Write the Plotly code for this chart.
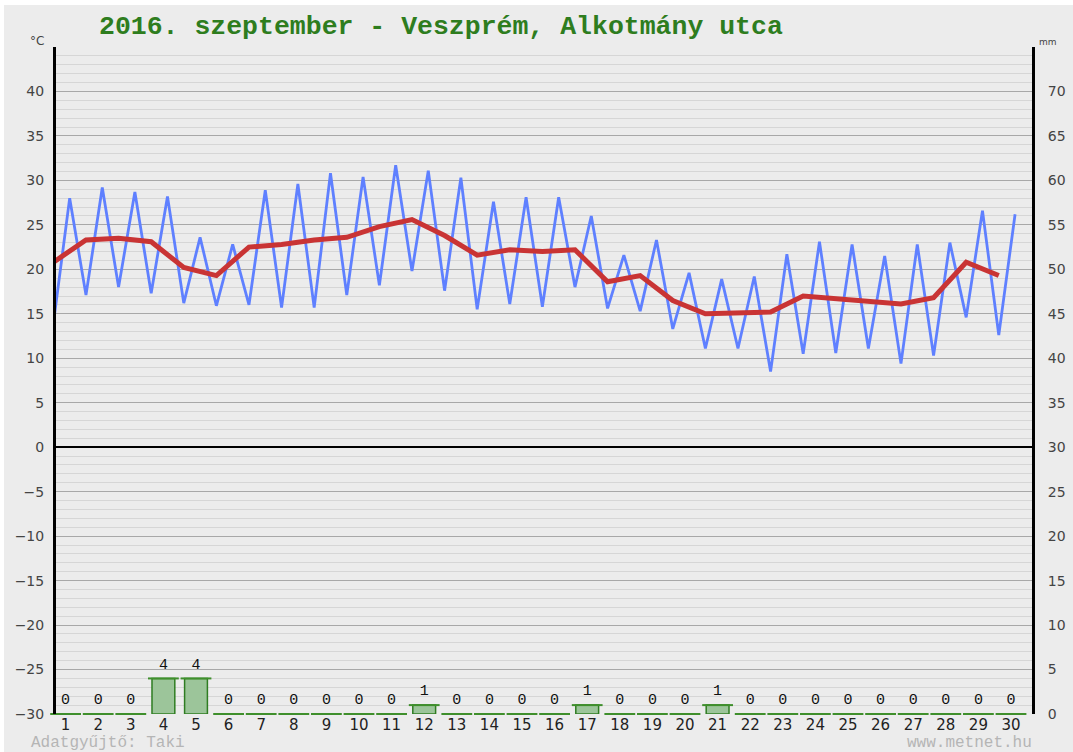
import plotly.graph_objects as go

# ---- data ----
days = list(range(1, 31))
day_labels = [str(d) for d in days]
t_min = [13.9, 17.1, 18.0, 17.3, 16.2, 15.9, 16.0, 15.7, 15.7, 17.1,
         18.2, 19.8, 17.6, 15.5, 16.1, 15.8, 18.0, 15.6, 15.3, 13.3,
         11.1, 11.1, 8.5, 10.5, 10.6, 11.1, 9.4, 10.3, 14.6, 12.6]
t_max = [28.0, 29.2, 28.7, 28.2, 23.6, 22.8, 28.9, 29.6, 30.8, 30.4,
         31.7, 31.1, 30.3, 27.6, 28.1, 28.1, 26.0, 21.6, 23.3, 19.6,
         18.9, 19.2, 21.7, 23.1, 22.8, 21.5, 22.8, 23.0, 26.6, 26.2]
t_mean = [20.8, 23.3, 23.5, 23.1, 20.2, 19.3, 22.5, 22.8, 23.3, 23.6,
          24.8, 25.6, 23.8, 21.6, 22.2, 22.0, 22.2, 18.6, 19.3, 16.5,
          15.0, 15.1, 15.2, 17.0, 16.7, 16.3, 16.1, 16.8, 20.8, 19.3]
precip = [0, 0, 0, 4, 4, 0, 0, 0, 0, 0,
          0, 1, 0, 0, 0, 0, 1, 0, 0, 0,
          1, 0, 0, 0, 0, 0, 0, 0, 0, 0]
temp_ticks = [-30, -25, -20, -15, -10, -5, 0, 5, 10, 15, 20, 25, 30, 35, 40]
mm_ticks = [0, 5, 10, 15, 20, 25, 30, 35, 40, 45, 50, 55, 60, 65, 70]

title_text = "2016. szeptember - Veszprém, Alkotmány utca"

# ---- geometry helpers ----
W, H = 1073, 752
ML, MR, MT, MB = 56, 41, 47, 38
PW, PH = W - ML - MR, H - MT - MB


def px(x):
    return (x - ML) / PW


def py(y):
    return (H - MB - y) / PH


MIN_OFF, MAX_OFF = -0.375, 0.125

# interleaved min/max line (night minimum then afternoon maximum)
zx, zy = [], []
for d, lo, hi in zip(days, t_min, t_max):
    zx += [d + MIN_OFF, d + MAX_OFF]
    zy += [lo, hi]
mean_x = [d + MIN_OFF for d in days]

BG = "#ececec"
fig = go.Figure()

fig.add_trace(go.Bar(
    x=days, y=precip, yaxis="y2", width=0.7,
    marker=dict(color="#9cc59a", line=dict(color="#2f7d22", width=1.5)),
    hoverinfo="skip", showlegend=False))
fig.add_trace(go.Scatter(
    x=days, y=precip, yaxis="y2", mode="markers",
    marker=dict(symbol="line-ew", size=22, line=dict(color="#3f8f2c", width=2)),
    cliponaxis=False, hoverinfo="skip", showlegend=False))
fig.add_trace(go.Scatter(
    x=days, y=precip, yaxis="y2", mode="markers+text", text=[str(p) for p in precip],
    textposition="top center",
    marker=dict(size=8, opacity=0),
    textfont=dict(family="Liberation Mono, DejaVu Sans Mono, monospace", size=15, color="#111"),
    cliponaxis=False, hoverinfo="skip", showlegend=False))
fig.add_trace(go.Scatter(
    x=zx, y=zy, mode="lines", line=dict(color="#5f80ff", width=2.8),
    hoverinfo="skip", showlegend=False))
fig.add_trace(go.Scatter(
    x=mean_x, y=t_mean, mode="lines", line=dict(color="#c93434", width=5),
    hoverinfo="skip", showlegend=False))

fig.update_layout(
    width=W, height=H,
    margin=dict(l=ML, r=MR, t=MT, b=MB, autoexpand=False),
    paper_bgcolor="white", plot_bgcolor=BG,
    bargap=0.3,
    xaxis=dict(range=[1 - 9.6 / 32.6, 1 + (W - MR - 65.6) / 32.6],
               tickmode="array", tickvals=days, ticktext=day_labels,
               showgrid=False, zeroline=False, showline=False, ticks="",
               tickfont=dict(family="DejaVu Sans", size=15, color="#222"),
               fixedrange=True),
    yaxis=dict(range=[-30, 45], tickmode="array", tickvals=temp_ticks,
               showgrid=True, gridcolor="#a8a8a8", gridwidth=1,
               minor=dict(dtick=1, tick0=0, showgrid=True, gridcolor="#d6d6d6", gridwidth=1),
               zeroline=True, zerolinecolor="#000", zerolinewidth=2,
               showline=True, linecolor="#000", linewidth=3,
               ticks="", ticklabelstandoff=6,
               tickfont=dict(family="DejaVu Sans", size=14, color="#444")),
    yaxis2=dict(range=[0, 75], overlaying="y", side="right",
                tickmode="array", tickvals=mm_ticks,
                showgrid=False, zeroline=False,
                showline=True, linecolor="#000", linewidth=3,
                ticks="", ticklabelstandoff=10,
                tickfont=dict(family="DejaVu Sans", size=14, color="#444")),
    shapes=[dict(type="rect", xref="paper", yref="paper", layer="below",
                 x0=px(4), x1=px(W + 2), y0=py(H + 2), y1=py(5),
                 fillcolor=BG, line=dict(width=0))],
    annotations=[
        dict(text=title_text, xref="paper", yref="paper", x=px(97), y=py(27),
             xanchor="left", yanchor="middle", showarrow=False,
             font=dict(family="Liberation Mono, Courier New, monospace", size=26.5,
                       color="#2e7d1e", weight="bold")),
        dict(text="°C", xref="paper", yref="paper", x=px(37), y=py(41),
             xanchor="center", yanchor="middle", showarrow=False,
             font=dict(family="DejaVu Sans", size=12, color="#444")),
        dict(text="mm", xref="paper", yref="paper", x=px(1048), y=py(42),
             xanchor="center", yanchor="middle", showarrow=False,
             font=dict(family="DejaVu Sans", size=9, color="#444")),
        dict(text="Adatgyűjtő: Taki", xref="paper", yref="paper", x=px(29), y=py(743),
             xanchor="left", yanchor="middle", showarrow=False,
             font=dict(family="Liberation Mono, monospace", size=16, color="#b5b5b5")),
        dict(text="www.metnet.hu", xref="paper", yref="paper", x=px(1034), y=py(743),
             xanchor="right", yanchor="middle", showarrow=False,
             font=dict(family="Liberation Mono, monospace", size=16, color="#b5b5b5")),
    ],
)

fig.write_html(
    "out.html",
    config={"displayModeBar": False, "staticPlot": True},
    post_script="document.body.style.margin='0';document.body.style.overflow='hidden';",
)
